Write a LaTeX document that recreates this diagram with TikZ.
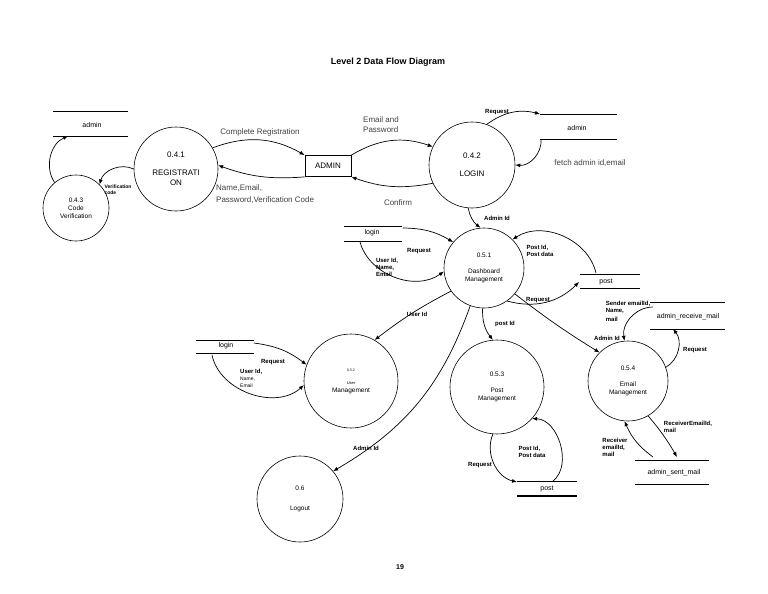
\documentclass[tikz,border=0pt]{standalone}
\usepackage{fontspec}
\setmainfont{Liberation Sans}
\usetikzlibrary{arrows.meta}
\begin{document}
\begin{tikzpicture}[x=1pt,y=-1pt,
  proc/.style={circle,draw,line width=0.6pt,align=center,inner sep=0pt},
  fl/.style={-{Latex[length=5pt,width=4pt]},line width=0.7pt},
  lb/.style={font=\fontsize{6}{7}\selectfont\bfseries,align=left,inner sep=0pt},
  lb8/.style={font=\fontsize{8}{10}\selectfont,align=left,inner sep=0pt,text=black!75},
  st/.style={line width=0.5pt},
  stt/.style={font=\fontsize{7}{8}\selectfont,inner sep=0pt}]
\useasboundingbox (0,0) rectangle (768,594);
\node[font=\fontsize{9}{11}\selectfont\bfseries] (title) at (388,62) {Level 2 Data Flow Diagram};
% stores
\draw[st] (53,111) -- (128,111); \draw[st] (53,136) -- (128,136);
\node[stt] (sadmin1) at (92,125) {admin};
\draw[st] (540,114) -- (617,114); \draw[st] (540,139) -- (617,139);
\node[stt] (sadmin2) at (577,128) {admin};
\draw[st] (344,226) -- (402,226); \draw[st] (344,241) -- (402,241);
\node[stt] (slogin1) at (372,233) {login};
\draw[st] (580,274) -- (640,274); \draw[st] (580,288) -- (640,288);
\node[stt] (spost1) at (606,282) {post};
\draw[st] (196,340) -- (254,340); \draw[st] (196,353) -- (254,353);
\node[stt] (slogin2) at (226,346) {login};
\draw[st] (517,481) -- (577,481); \draw[line width=1.2pt] (517,496) -- (577,496);
\node[stt] (spost2) at (547,489) {post};
\draw[st] (650,302) -- (725,302); \draw[st] (650,329) -- (725,329);
\node[stt] (srecv) at (688,317) {admin\_receive\_mail};
\draw[st] (635,460) -- (709,460); \draw[st] (635,484) -- (709,484);
\node[stt] (ssent) at (674,473) {admin\_sent\_mail};
% processes
\node[proc,minimum size=84pt,font=\fontsize{8}{10}\selectfont] (p041) at (176,169) {0.4.1\\[8pt]REGISTRATI\\ON};
\node[proc,minimum size=66pt,font=\fontsize{6.5}{8}\selectfont] (p043) at (76,208) {0.4.3\\Code\\Verification};
\node[draw,line width=0.8pt,minimum width=46pt,minimum height=21pt,font=\fontsize{8}{10}\selectfont] (admin) at (328,166) {ADMIN};
\node[proc,minimum size=86pt,font=\fontsize{8}{10}\selectfont] (p042) at (472,165) {0.4.2\\[8pt]LOGIN};
\node[proc,minimum size=80pt,font=\fontsize{6.5}{8}\selectfont] (p051) at (484,268) {0.5.1\\[8pt]Dashboard\\Management};
\node[proc,minimum size=94pt,font=\fontsize{6.5}{8}\selectfont] (p052) at (351,381) {{\fontsize{3.5}{5}\selectfont 0.5.2}\\[5pt]{\fontsize{4}{6}\selectfont User}\\Management};
\node[proc,minimum size=94pt,font=\fontsize{6.5}{8}\selectfont] (p053) at (497,387) {0.5.3\\[8pt]Post\\Management};
\node[proc,minimum size=80pt,font=\fontsize{6.5}{8}\selectfont] (p054) at (628,381) {0.5.4\\[8pt]Email\\Management};
\node[proc,minimum size=86pt,font=\fontsize{6.5}{8}\selectfont] (p06) at (300,499) {0.6\\[12pt]Logout};
% flows top
\draw[fl] (p041.30) to[bend left=25] (admin.north west);
\node[lb8] (l1) at (260,132) {Complete Registration};
\draw[fl] (admin.south west) to[bend left=12] (p041.5);
\node[lb8,anchor=west] (l2) at (216,194) {Name,Email,\\[2pt]Password,Verification Code};
\draw[fl] (admin.north east) to[bend left=25] (p042.155);
\node[lb8,anchor=west] (l3) at (363,125) {Email and\\Password};
\draw[fl] (p042.205) to[bend left=15] (admin.south east);
\node[lb8] (l4) at (398,203) {Confirm};
\draw[fl] (p042.70) to[bend left=25] (540,114);
\node[lb] (l5) at (497,112) {Request};
\draw[fl] (541,139) to[bend left=50] (p042.0);
\node[lb8] (l6) at (590,163) {fetch admin id,email};
\draw[fl] (p041.180) to[bend right=50] (p043.45);
\node[lb,font=\fontsize{5}{6}\selectfont\bfseries] (l7) at (118,190) {Verification\\code};
\draw[fl] (p043.130) to[bend left=50] (68,136);
% dashboard
\draw[fl] (p042.265) to[bend right=20] (p051.95);
\node[lb] (l8) at (497,218) {Admin Id};
\draw[fl] (403,228) to[bend left=15] (p051.140);
\node[lb] (l9) at (419,251) {Request};
\draw[fl] (360,242) to[bend right=55] (p051.185);
\node[lb] (l10) at (387,267) {User Id,\\Name,\\Email};
\draw[fl] (596,273) to[bend right=55] (p051.45);
\node[lb] (l11) at (540,251) {Post Id,\\Post data};
\draw[fl] (p051.305) to[bend right=30] (579,282);
\node[lb] (l12) at (538,300) {Request};
\draw[fl] (p051.215) to[bend right=5] (p052.60);
\node[lb] (l13) at (417,314) {User Id};
\draw[fl] (p051.268) to[bend right=20] (p053.95);
\node[lb] (l14) at (505,324) {post Id};
\draw[fl] (p051.320) to[bend right=3] (p054.135);
\node[lb] (l15) at (607,338) {Admin Id};
\draw[fl] (p051.250) to[bend left=20] (p06.40);
\node[lb] (l16) at (366,448) {Admin Id};
% user mgmt
\draw[fl] (254,343) to[bend left=15] (p052.160);
\node[lb] (l17) at (273,362) {Request};
\draw[fl] (212,355) to[bend right=60] (p052.185);
\node[lb,anchor=north west] (l18) at (240,369) {User Id,\\{\mdseries\fontsize{5}{6}\selectfont Name,}\\{\mdseries\fontsize{5}{6}\selectfont Email}};
% post mgmt
\draw[fl] (p053.265) to[bend right=50] (517,482);
\node[lb] (l19) at (480,465) {Request};
\draw[fl] (553,481) to[bend right=70] (p053.318);
\node[lb] (l20) at (532,452) {Post Id,\\Post data};
% email
\draw[fl] (653,307) to[bend right=50] (p054.95);
\node[lb] (l21) at (628,311) {Sender emailId,\\Name,\\[2pt]mail};
\draw[fl] (p054.20) to[bend right=50] (673,329);
\node[lb] (l22) at (695,350) {Request};
\draw[fl] (p054.300) to[bend left=5] (677,457);
\node[lb] (l23) at (688,427) {ReceiverEmailId,\\mail};
\draw[fl] (653,457) to[bend left=15] (p054.265);
\node[lb] (l24) at (615,447) {Receiver\\emailId,\\mail};
\node[font=\fontsize{7}{8}\selectfont\bfseries] (page) at (400,567) {19};
\end{tikzpicture}
\end{document}
